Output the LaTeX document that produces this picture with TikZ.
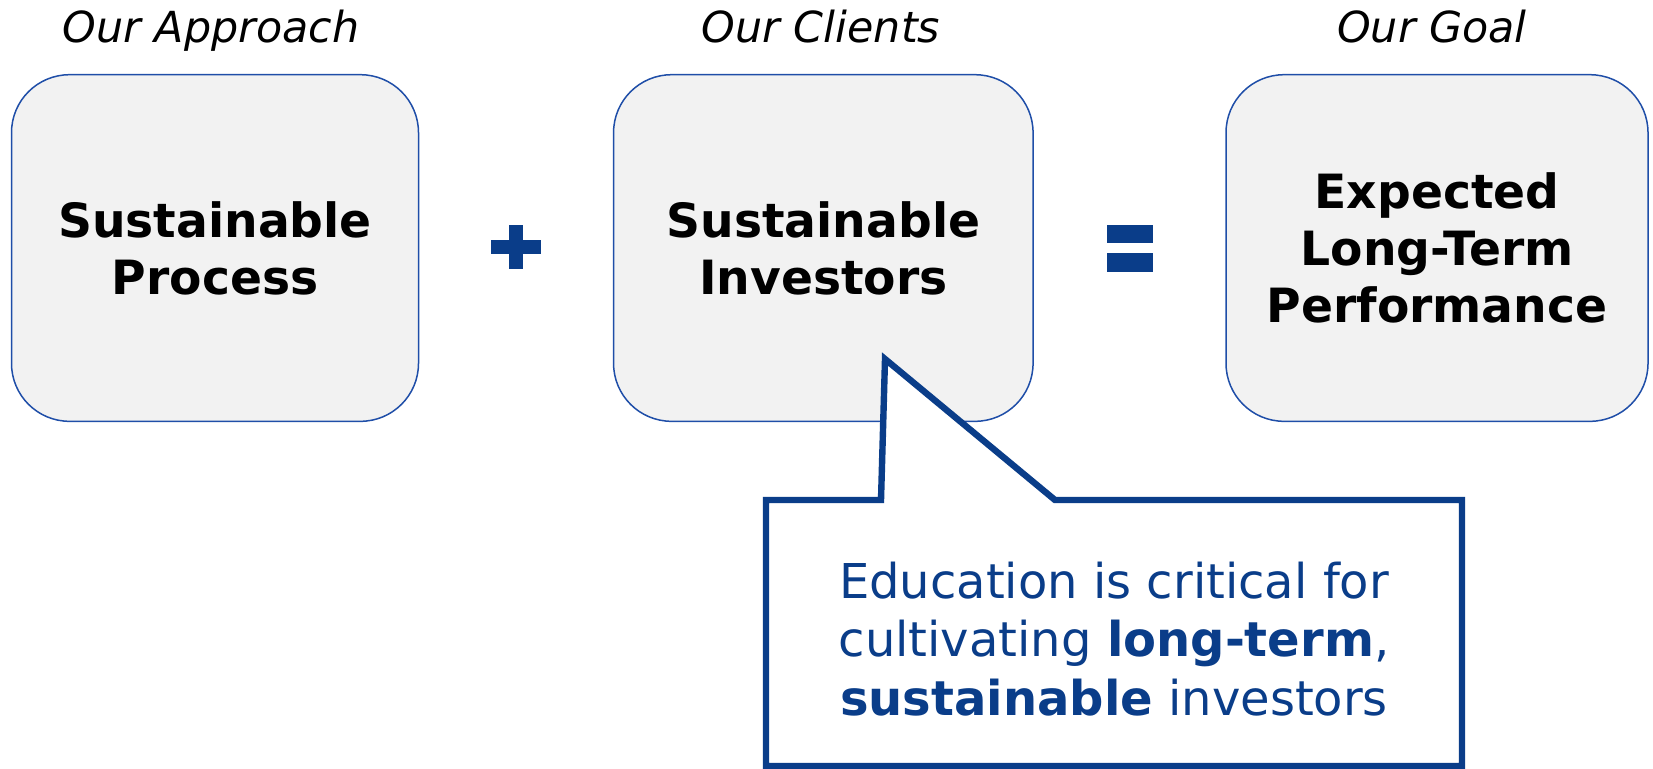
\documentclass[tikz,border=0pt]{standalone}
\usepackage{fontspec}
\setmainfont{DejaVu Sans}

\definecolor{navy}{RGB}{10,61,137}
\definecolor{rim}{RGB}{31,78,168}
\definecolor{panel}{RGB}{242,242,242}

\tikzset{
  card/.style={draw=rim, line width=0.75pt, fill=panel, rounded corners=29pt,
    minimum height=173.3pt, align=center,
    font=\fontsize{23.6}{28.6}\selectfont\bfseries},
  heading/.style={anchor=base, font=\fontsize{21.4}{25}\selectfont\itshape},
  sign/.style={fill=navy},
}

\begin{document}
\begin{tikzpicture}[x=0.5pt,y=-0.5pt]
  \useasboundingbox (0,0) rectangle (1653,768);

  % column headings
  \node (t1) at (211,42) [heading] {Our Approach};
  \node (t2) at (821,42) [heading] {Our Clients};
  \node (t3) at (1432,42) [heading] {Our Goal};

  % the three cards
  \node (A) at (215,248) [card, minimum width=203.5pt] {Sustainable\\Process};
  \node (B) at (823.3,248) [card, minimum width=209.75pt] {Sustainable\\Investors};
  \node (C) at (1437,248) [card, minimum width=211pt] {Expected\\Long-Term\\Performance};

  % plus and equals signs
  \path[sign] (490.7,240) rectangle (540.7,254);
  \path[sign] (508.7,225) rectangle (522.7,269);
  \path[sign] (1106.7,225) rectangle (1153.3,243.3);
  \path[sign] (1106.7,253.3) rectangle (1153.3,271.7);

  % speech bubble under the clients card
  \coordinate (tip) at (885,359);
  \draw[navy, line width=3.2pt, fill=white, line join=miter]
    (766,500) -- (881,500) -- (tip) -- (1055,500) -- (1462,500)
    -- (1462,766) -- (766,766) -- cycle;
  \node (edu) at (1114,639) [align=center, text=navy,
    font=\fontsize{24}{29.2}\selectfont]
    {Education is critical for\\cultivating \textbf{long-term},\\\textbf{sustainable} investors};
\end{tikzpicture}
\end{document}
